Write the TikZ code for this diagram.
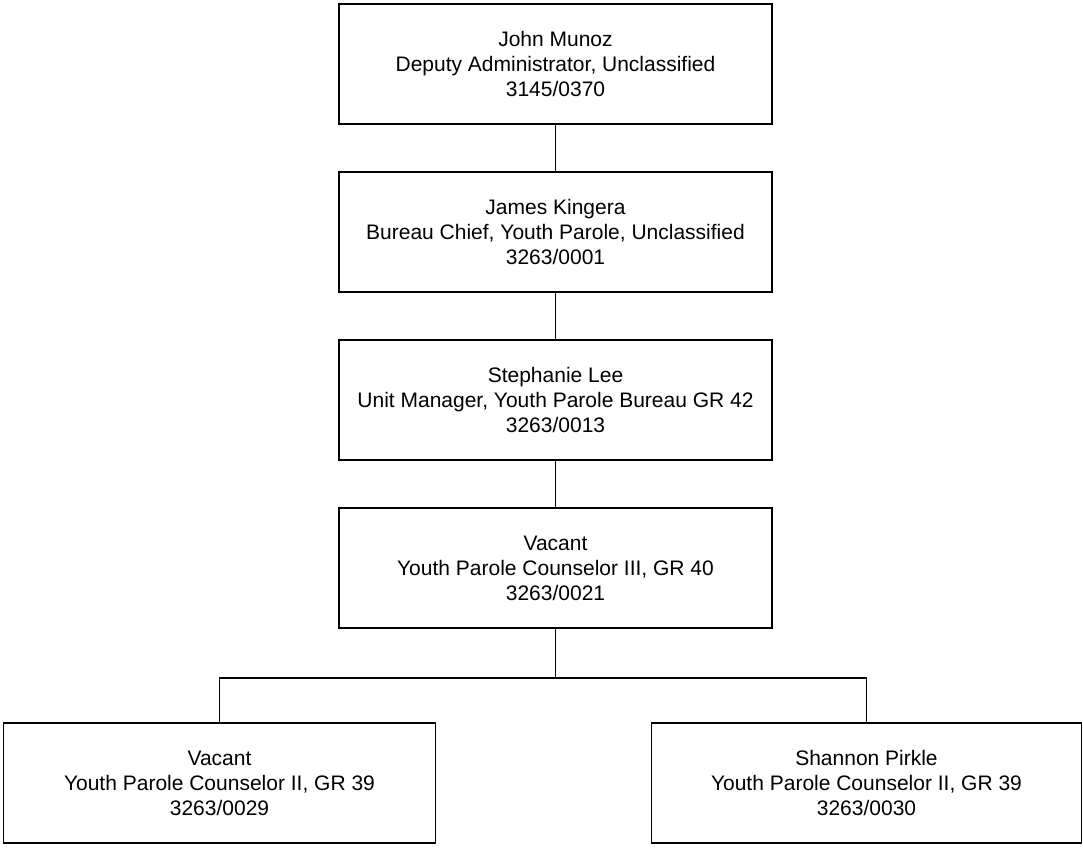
\documentclass[tikz,border=0pt]{standalone}
\usepackage{fontspec}
\setmainfont{Liberation Sans}
\usetikzlibrary{positioning}

\begin{document}
\begin{tikzpicture}[node distance=24pt, line width=0.8pt,
	font=\fontsize{10.5}{12.5}\selectfont,
	post/.style={draw, align=center, minimum width=216.5pt, minimum height=60pt, inner sep=0pt, outer sep=0pt}]
	\useasboundingbox (0,0) rectangle (541.5pt,-424.5pt);

	% chain of command
	\node[post] (munoz) at (277.75pt,-32pt) {John Munoz\\Deputy Administrator, Unclassified\\3145/0370};
	\node[post,below=of munoz] (kingera) {James Kingera\\Bureau Chief, Youth Parole, Unclassified\\3263/0001};
	\node[post,below=of kingera] (lee) {Stephanie Lee\\Unit Manager, Youth Parole Bureau GR 42\\3263/0013};
	\node[post,below=of lee] (vacantiii) {Vacant\\Youth Parole Counselor III, GR 40\\3263/0021};

	% counselors
	\node[post,minimum width=216pt,below=47.5pt of vacantiii,xshift=-168pt] (vacantii) {Vacant\\Youth Parole Counselor II, GR 39\\3263/0029};
	\node[post,minimum width=215pt,below=47.5pt of vacantiii,xshift=155.5pt] (pirkle) {Shannon Pirkle\\Youth Parole Counselor II, GR 39\\3263/0030};

	\draw (munoz) -- (kingera);
	\draw (kingera) -- (lee);
	\draw (lee) -- (vacantiii);
	\draw (vacantiii.south) -- ++(0,-25pt) coordinate (bus);
	\draw (bus) -| (vacantii.north);
	\draw (bus) -| (pirkle.north);
\end{tikzpicture}
\end{document}
